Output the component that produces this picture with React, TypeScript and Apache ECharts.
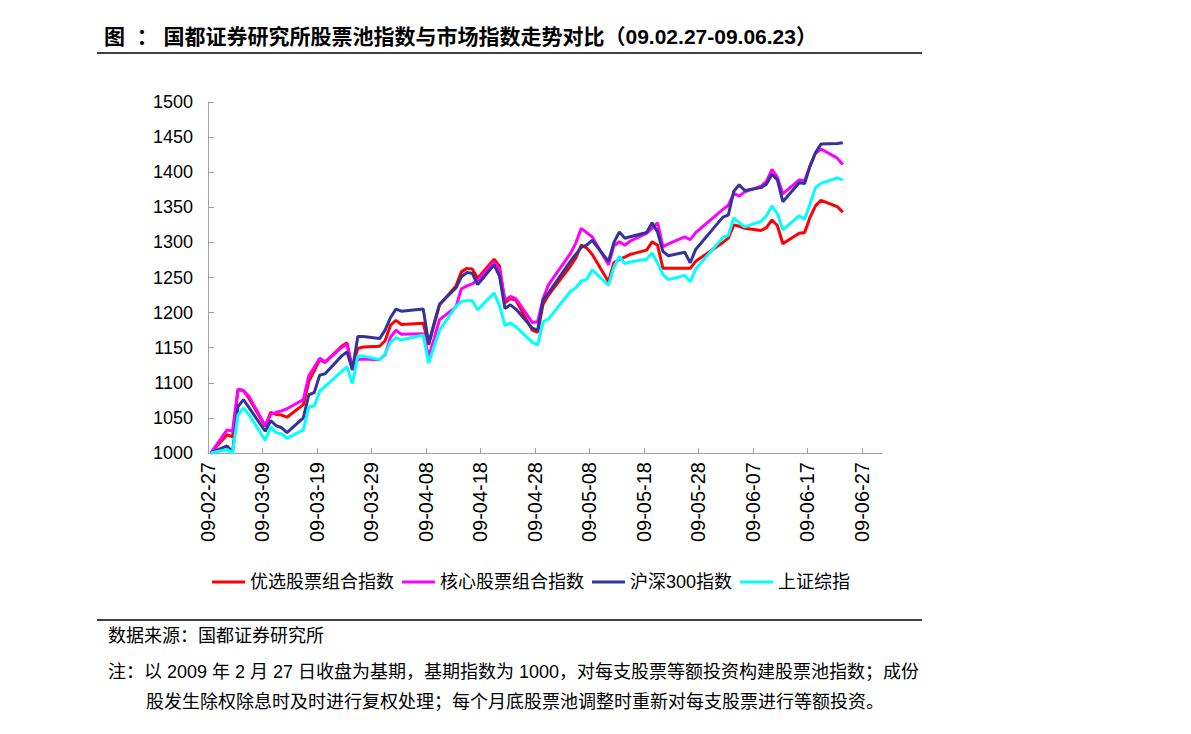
import React, { useEffect, useRef } from "react";
import * as echarts from "echarts";

const dates = [
  "2009-02-27",
  "2009-03-02", "2009-03-03", "2009-03-04", "2009-03-05", "2009-03-06",
  "2009-03-09", "2009-03-10", "2009-03-11", "2009-03-12", "2009-03-13",
  "2009-03-16", "2009-03-17", "2009-03-18", "2009-03-19", "2009-03-20",
  "2009-03-23", "2009-03-24", "2009-03-25", "2009-03-26", "2009-03-27",
  "2009-03-30", "2009-03-31", "2009-04-01", "2009-04-02", "2009-04-03",
  "2009-04-07", "2009-04-08", "2009-04-09", "2009-04-10",
  "2009-04-13", "2009-04-14", "2009-04-15", "2009-04-16", "2009-04-17",
  "2009-04-20", "2009-04-21", "2009-04-22", "2009-04-23", "2009-04-24",
  "2009-04-27", "2009-04-28", "2009-04-29", "2009-04-30",
  "2009-05-04", "2009-05-05", "2009-05-06", "2009-05-07", "2009-05-08",
  "2009-05-11", "2009-05-12", "2009-05-13", "2009-05-14", "2009-05-15",
  "2009-05-18", "2009-05-19", "2009-05-20", "2009-05-21", "2009-05-22",
  "2009-05-25", "2009-05-26", "2009-05-27",
  "2009-06-01", "2009-06-02", "2009-06-03", "2009-06-04", "2009-06-05",
  "2009-06-08", "2009-06-09", "2009-06-10", "2009-06-11", "2009-06-12",
  "2009-06-15", "2009-06-16", "2009-06-17", "2009-06-18", "2009-06-19",
  "2009-06-22", "2009-06-23",
];

const youxuan = [
  1000,
  1026, 1023, 1090, 1089, 1078,
  1038, 1058, 1055, 1054, 1051,
  1069, 1102, 1117, 1133, 1129,
  1152, 1157, 1121, 1149, 1151,
  1152, 1160, 1182, 1189, 1183,
  1185, 1154, 1183, 1211,
  1238, 1258, 1263, 1262, 1249,
  1276, 1266, 1214, 1220, 1218,
  1175, 1172, 1212, 1225,
  1266, 1278, 1296, 1292, 1283,
  1244, 1271, 1276, 1279, 1283,
  1289, 1301, 1296, 1263, 1263,
  1263, 1263, 1273,
  1300, 1306, 1325, 1323, 1320,
  1317, 1321, 1332, 1324, 1298,
  1313, 1314, 1336, 1352, 1360,
  1351, 1343,
];

const hexin = [
  1000,
  1033, 1031, 1091, 1089, 1081,
  1039, 1055, 1058, 1060, 1063,
  1076, 1110, 1122, 1135, 1130,
  1150, 1155, 1118, 1133, 1134,
  1133, 1140, 1165, 1175, 1169,
  1170, 1137, 1163, 1190,
  1208, 1234, 1238, 1241, 1246,
  1272, 1262, 1218, 1223, 1220,
  1186, 1187, 1220, 1240,
  1284, 1299, 1320, 1314, 1308,
  1268, 1295, 1301, 1296, 1302,
  1313, 1320, 1328, 1294, 1298,
  1308, 1304, 1314,
  1347, 1353, 1370, 1366, 1372,
  1380, 1387, 1404, 1393, 1369,
  1389, 1388, 1409, 1427, 1433,
  1420, 1411,
];

const hs300 = [
  1000,
  1010, 1001, 1066, 1076, 1065,
  1031, 1046, 1039, 1036, 1029,
  1050, 1083, 1086, 1111, 1113,
  1138, 1144, 1119, 1166, 1166,
  1163, 1175, 1193, 1205, 1202,
  1205, 1156, 1185, 1212,
  1235, 1251, 1257, 1256, 1240,
  1268, 1252, 1206, 1211, 1205,
  1178, 1175, 1218, 1228,
  1273, 1283, 1293, 1296, 1303,
  1273, 1300, 1315, 1306, 1308,
  1314, 1328, 1315, 1287, 1281,
  1286, 1271, 1290,
  1336, 1339, 1373, 1382, 1374,
  1378, 1383, 1397, 1389, 1358,
  1385, 1384, 1409, 1428, 1440,
  1441, 1442,
];

const shzz = [
  1000,
  1005, 1000, 1054, 1064, 1055,
  1018, 1037, 1029, 1027, 1021,
  1033, 1066, 1067, 1088, 1095,
  1116, 1123, 1099, 1138, 1138,
  1133, 1141, 1158, 1164, 1161,
  1168, 1128, 1152, 1175,
  1209, 1216, 1217, 1217, 1204,
  1228, 1210, 1182, 1185, 1180,
  1158, 1154, 1187, 1191,
  1230, 1235, 1245, 1247, 1261,
  1239, 1265, 1280, 1270, 1272,
  1276, 1285, 1271, 1254, 1247,
  1253, 1244, 1262,
  1307, 1310, 1335, 1328, 1322,
  1330, 1338, 1352, 1341, 1318,
  1338, 1333, 1355, 1378, 1384,
  1392, 1389,
];

const seriesNames = ["优选股票组合指数", "核心股票组合指数", "沪深300指数", "上证综指"];
const seriesColors = ["#FF0000", "#FF00FF", "#333399", "#00FFFF"];
const xTickDays = [0, 10, 20, 30, 40, 50, 60, 70, 80, 90, 100, 110, 120];

const BASE = Date.UTC(2009, 1, 27);
const DAY = 86400000;

function dayPos(s: string): number {
  const [y, m, d] = s.split("-").map(Number);
  return (Date.UTC(y, m - 1, d) - BASE) / DAY + 0.5;
}

function fmtDay(v: number): string {
  const t = new Date(BASE + Math.round(v) * DAY);
  const yy = String(t.getUTCFullYear() % 100).padStart(2, "0");
  const mm = String(t.getUTCMonth() + 1).padStart(2, "0");
  const dd = String(t.getUTCDate()).padStart(2, "0");
  return `${yy}-${mm}-${dd}`;
}

const FONT = "'Liberation Sans', Arial, 'Noto Sans CJK SC', sans-serif";

export default function App() {
  const ref = useRef<HTMLDivElement>(null);
  useEffect(() => {
    if (!ref.current) return;
    const chart = echarts.init(ref.current, undefined, { renderer: "svg" });
    const all = [youxuan, hexin, hs300, shzz];
    chart.setOption({
      animation: false,
      backgroundColor: "#ffffff",
      textStyle: { fontFamily: FONT },
      grid: { left: 208, top: 102, right: 309, bottom: 281, containLabel: false },
      legend: {
        left: 207,
        top: 567,
        icon: "rect",
        itemWidth: 33,
        itemHeight: 3,
        itemGap: 8,
        textStyle: { fontSize: 18, color: "#000", fontFamily: FONT, lineHeight: 20 },
        data: seriesNames,
      },
      xAxis: {
        type: "value",
        min: 0,
        max: 123.7,
        interval: 10,
        axisLine: { show: true, lineStyle: { color: "#A0A0A0", width: 1 } },
        axisTick: { show: true, inside: true, length: 5, lineStyle: { color: "#A0A0A0" }, customValues: xTickDays },
        axisLabel: {
          rotate: 90,
          margin: 9,
          fontSize: 20,
          color: "#000",
          fontFamily: FONT,
          customValues: xTickDays,
          formatter: (v: number) => fmtDay(v),
        },
        splitLine: { show: false },
      },
      yAxis: {
        type: "value",
        min: 1000,
        max: 1500,
        interval: 50,
        axisLine: { show: true, lineStyle: { color: "#A0A0A0", width: 1 } },
        axisTick: { show: true, inside: true, length: 6, lineStyle: { color: "#A0A0A0" } },
        axisLabel: { fontSize: 18, color: "#000", margin: 15, fontFamily: FONT, formatter: (v: number) => String(v) },
        splitLine: { show: false },
      },
      series: seriesNames.map((name, i) => ({
        name,
        type: "line",
        showSymbol: false,
        symbol: "none",
        clip: false,
        color: seriesColors[i],
        lineStyle: { color: seriesColors[i], width: 3 },
        data: dates.map((d, j) => [dayPos(d), all[i][j]]),
      })),
      graphic: [
        {
          type: "text",
          left: 104,
          top: 26,
          style: {
            text: "图  ： 国都证券研究所股票池指数与市场指数走势对比（09.02.27-09.06.23）",
            font: `bold 21px ${FONT}`,
            fill: "#000",
          },
        },
        { type: "line", shape: { x1: 97, y1: 53, x2: 922, y2: 53 }, style: { stroke: "#000", lineWidth: 1.5 } },
        { type: "line", shape: { x1: 97, y1: 620, x2: 922, y2: 620 }, style: { stroke: "#000", lineWidth: 1.5 } },
        {
          type: "text",
          left: 108,
          top: 627,
          style: { text: "数据来源：国都证券研究所", font: `18px ${FONT}`, fill: "#000" },
        },
        {
          type: "text",
          left: 108,
          top: 663,
          style: {
            text: "注：以 2009 年 2 月 27 日收盘为基期，基期指数为 1000，对每支股票等额投资构建股票池指数；成份",
            font: `18px ${FONT}`,
            fill: "#000",
          },
        },
        {
          type: "text",
          left: 146,
          top: 693,
          style: {
            text: "股发生除权除息时及时进行复权处理；每个月底股票池调整时重新对每支股票进行等额投资。",
            font: `18px ${FONT}`,
            fill: "#000",
          },
        },
      ],
    });
    return () => chart.dispose();
  }, []);
  return (
    <div
      ref={ref}
      style={{ position: "absolute", left: 0, top: 0, width: 1191, height: 734, background: "#fff" }}
    />
  );
}
